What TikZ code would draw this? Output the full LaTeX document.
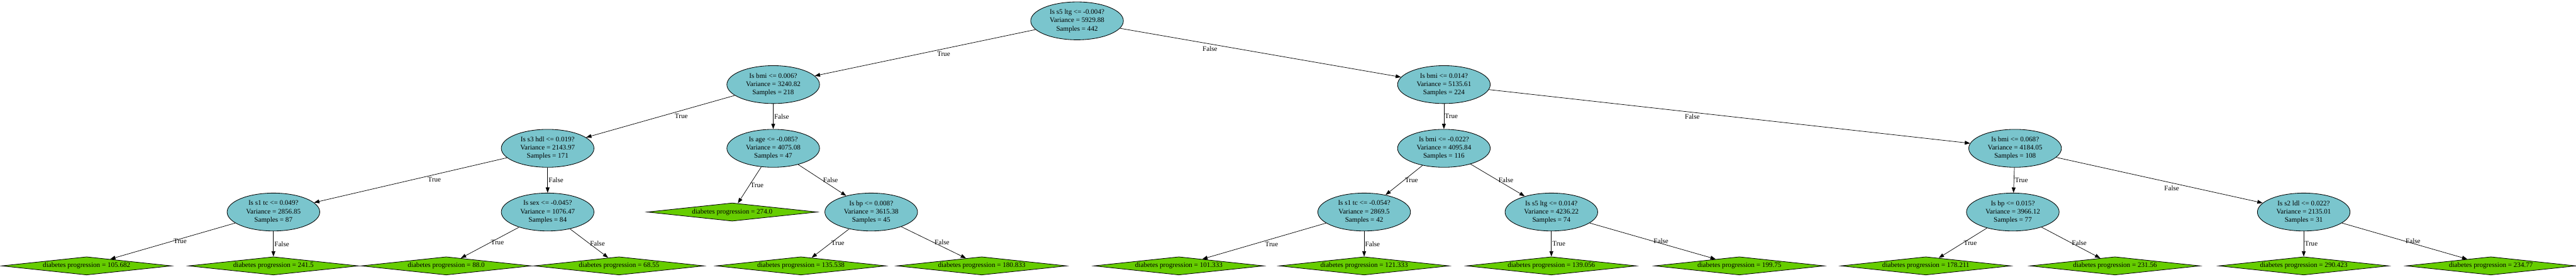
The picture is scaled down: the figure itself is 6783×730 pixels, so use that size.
\documentclass[tikz,border=0pt]{standalone}
\usepackage{fontspec}
\setmainfont{Liberation Serif}
\usetikzlibrary{shapes.geometric,arrows.meta}
\definecolor{nodeblue}{HTML}{7AC5CD}
\definecolor{leafgreen}{HTML}{66CD00}
\tikzset{
  qnode/.style={ellipse, draw=black, line width=0.7pt, fill=nodeblue, minimum width=122pt, minimum height=50pt, inner sep=0pt, align=center, font=\fontsize{9.2}{10.9}\selectfont},
  leafnode/.style={diamond, aspect=9, draw=black, line width=0.7pt, fill=leafgreen, minimum width=224pt, minimum height=24pt, inner sep=0pt, font=\fontsize{9.2}{10.9}\selectfont},
  edge/.style={draw=black, line width=0.6pt, -{Triangle[length=7pt,width=5pt]}},
  lbl/.style={font=\fontsize{9.2}{10.9}\selectfont, inner sep=1pt},
}
\begin{document}
\begin{tikzpicture}[x=0.5pt, y=-0.5pt]
\useasboundingbox (0,0) rectangle (6783,730);
% internal nodes
\node[qnode] (root) at (2836,55) {Is s5 ltg <= -0.004?\\Variance = 5929.88\\Samples = 442};
\node[qnode] (a) at (2036,223) {Is bmi <= 0.006?\\Variance = 3240.82\\Samples = 218};
\node[qnode] (b) at (3802,223) {Is bmi <= 0.014?\\Variance = 5135.61\\Samples = 224};
\node[qnode] (aa) at (1442,391) {Is s3 hdl <= 0.019?\\Variance = 2143.97\\Samples = 171};
\node[qnode] (ab) at (2036,391) {Is age <= -0.085?\\Variance = 4075.08\\Samples = 47};
\node[qnode] (ba) at (3802,391) {Is bmi <= -0.022?\\Variance = 4095.84\\Samples = 116};
\node[qnode] (bb) at (5306,391) {Is bmi <= 0.068?\\Variance = 4184.05\\Samples = 108};
\node[qnode] (aaa) at (720,559) {Is s1 tc <= 0.049?\\Variance = 2856.85\\Samples = 87};
\node[qnode] (aab) at (1442,559) {Is sex <= -0.045?\\Variance = 1076.47\\Samples = 84};
\node[leafnode] (aba) at (1928,559) {diabetes progression = 274.0};
\node[qnode] (abb) at (2294,559) {Is bp <= 0.008?\\Variance = 3615.38\\Samples = 45};
\node[qnode] (baa) at (3592,559) {Is s1 tc <= -0.054?\\Variance = 2869.5\\Samples = 42};
\node[qnode] (bab) at (4085,559) {Is s5 ltg <= 0.014?\\Variance = 4236.22\\Samples = 74};
\node[qnode] (bba) at (5300,559) {Is bp <= 0.015?\\Variance = 3966.12\\Samples = 77};
\node[qnode] (bbb) at (6066,559) {Is s2 ldl <= 0.022?\\Variance = 2135.01\\Samples = 31};
% leaves
\node[leafnode] (l1) at (228,701) {diabetes progression = 105.682};
\node[leafnode] (l2) at (720,701) {diabetes progression = 241.5};
\node[leafnode] (l3) at (1175,701) {diabetes progression = 88.0};
\node[leafnode] (l4) at (1630,701) {diabetes progression = 68.55};
\node[leafnode] (l5) at (2109,701) {diabetes progression = 135.538};
\node[leafnode] (l6) at (2585,701) {diabetes progression = 180.833};
\node[leafnode] (l7) at (3104,701) {diabetes progression = 101.333};
\node[leafnode] (l8) at (3592,701) {diabetes progression = 121.333};
\node[leafnode] (l9) at (4085,701) {diabetes progression = 139.056};
\node[leafnode] (l10) at (4580,701) {diabetes progression = 199.75};
\node[leafnode] (l11) at (5071,701) {diabetes progression = 178.211};
\node[leafnode] (l12) at (5569,701) {diabetes progression = 231.56};
\node[leafnode] (l13) at (6066,701) {diabetes progression = 290.423};
\node[leafnode] (l14) at (6559,701) {diabetes progression = 234.77};
% edges
\draw[edge] (root) -- node[lbl, pos=0.45, anchor=north west] {True} (a);
\draw[edge] (root) -- node[lbl, pos=0.35, anchor=north east] {False} (b);
\draw[edge] (a) -- node[lbl, pos=0.41, anchor=north west] {True} (aa);
\draw[edge] (a) -- node[lbl, pos=0.5, anchor=west] {False} (ab);
\draw[edge] (b) -- node[lbl, pos=0.5, anchor=west] {True} (ba);
\draw[edge] (b) -- node[lbl, pos=0.44, anchor=north east] {False} (bb);
\draw[edge] (aa) -- node[lbl, pos=0.415, anchor=north west] {True} (aaa);
\draw[edge] (aa) -- node[lbl, pos=0.5, anchor=west] {False} (aab);
\draw[edge] (ab) -- node[lbl, pos=0.5, anchor=west] {True} (aba);
\draw[edge] (ab) -- node[lbl, pos=0.5, anchor=west] {False} (abb);
\draw[edge] (ba) -- node[lbl, pos=0.5, anchor=west] {True} (baa);
\draw[edge] (ba) -- node[lbl, pos=0.5, anchor=west] {False} (bab);
\draw[edge] (bb) -- node[lbl, pos=0.5, anchor=west] {True} (bba);
\draw[edge] (bb) -- node[lbl, pos=0.6, anchor=north east] {False} (bbb);
\draw[edge] (aaa) -- node[lbl, pos=0.5, anchor=west] {True} (l1);
\draw[edge] (aaa) -- node[lbl, pos=0.5, anchor=west] {False} (l2);
\draw[edge] (aab) -- node[lbl, pos=0.5, anchor=west] {True} (l3);
\draw[edge] (aab) -- node[lbl, pos=0.5, anchor=west] {False} (l4);
\draw[edge] (abb) -- node[lbl, pos=0.5, anchor=west] {True} (l5);
\draw[edge] (abb) -- node[lbl, pos=0.5, anchor=west] {False} (l6);
\draw[edge] (baa) -- node[lbl, pos=0.5, anchor=north west] {True} (l7);
\draw[edge] (baa) -- node[lbl, pos=0.5, anchor=west] {False} (l8);
\draw[edge] (bab) -- node[lbl, pos=0.5, anchor=west] {True} (l9);
\draw[edge] (bab) -- node[lbl, pos=0.5, anchor=west] {False} (l10);
\draw[edge] (bba) -- node[lbl, pos=0.5, anchor=west] {True} (l11);
\draw[edge] (bba) -- node[lbl, pos=0.5, anchor=west] {False} (l12);
\draw[edge] (bbb) -- node[lbl, pos=0.5, anchor=west] {True} (l13);
\draw[edge] (bbb) -- node[lbl, pos=0.5, anchor=west] {False} (l14);
\end{tikzpicture}
\end{document}
